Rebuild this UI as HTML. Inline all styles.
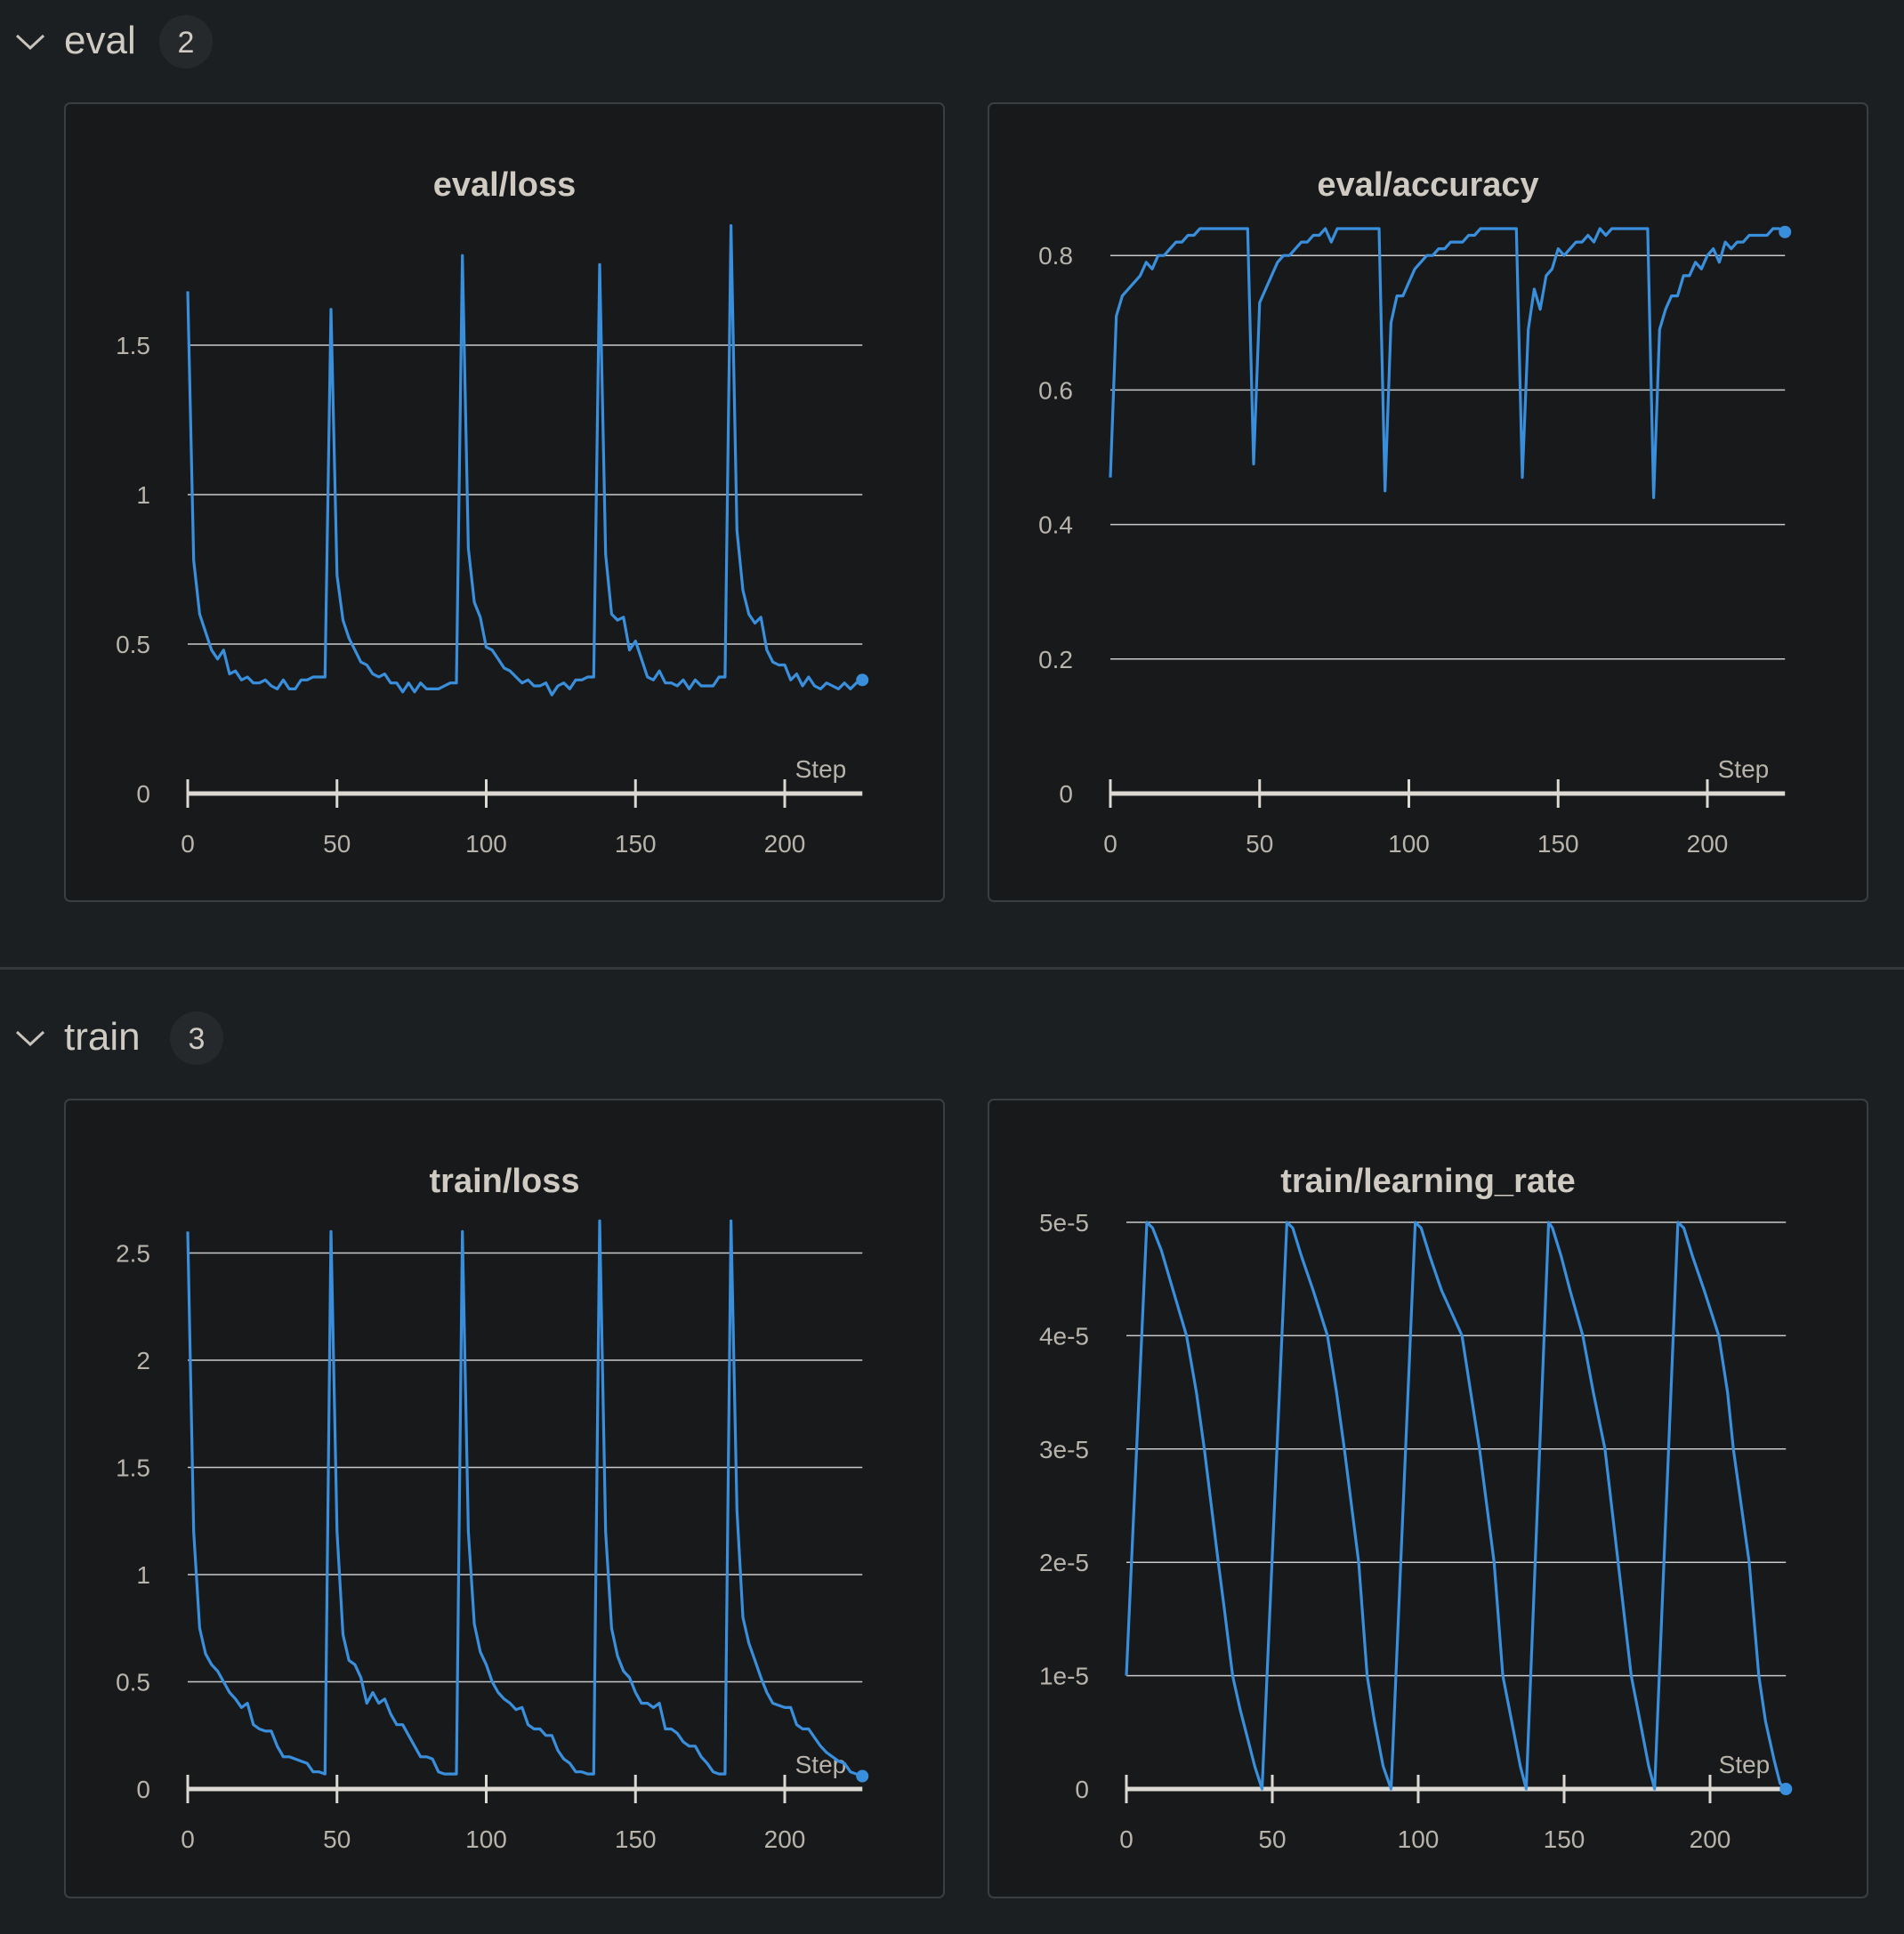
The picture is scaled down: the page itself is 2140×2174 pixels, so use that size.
<!DOCTYPE html>
<html><head><meta charset="utf-8"><style>
html,body{margin:0;padding:0;background:#1c1f22;}
body{width:2140px;height:2174px;overflow:hidden;font-family:"Liberation Sans",sans-serif;}
svg{display:block}
</style></head><body>
<svg id="root" width="2140" height="2174" viewBox="0 0 2140 2174" xmlns="http://www.w3.org/2000/svg">
<rect x="0" y="0" width="2140" height="2174" fill="#1c1f22"/>
<g>
<polyline points="19,40 34,54 49,40" fill="none" stroke="#c8c4bd" stroke-width="3"/>
<text x="72" y="60" font-size="44" fill="#cfcac2">eval</text>
<circle cx="209" cy="47" r="30" fill="#25292c"/>
<text x="209" y="59" font-size="34" fill="#cfcac2" text-anchor="middle">2</text>
</g>
<rect x="0" y="1087" width="2140" height="3" fill="#34383b"/>
<g>
<polyline points="19,1160 34,1174 49,1160" fill="none" stroke="#c8c4bd" stroke-width="3"/>
<text x="72" y="1180" font-size="44" fill="#cfcac2">train</text>
<circle cx="221" cy="1167" r="30" fill="#25292c"/>
<text x="221" y="1179" font-size="34" fill="#cfcac2" text-anchor="middle">3</text>
</g>
</svg>
<script>
// eval/loss (evaluated every 2 steps)
const evalLossSteps = [0,2,4,6,8,10,12,14,16,18,20,22,24,26,28,30,32,34,36,38,40,42,44,46,
48,50,52,54,56,58,60,62,64,66,68,70,72,74,76,78,80,82,84,86,88,90,
92,94,96,98,100,102,104,106,108,110,112,114,116,118,120,122,124,126,128,130,132,134,136,
138,140,142,144,146,148,150,152,154,156,158,160,162,164,166,168,170,172,174,176,178,180,
182,184,186,188,190,192,194,196,198,200,202,204,206,208,210,212,214,216,218,220,222,224,226];
const evalLossValues = [1.68,0.78,0.6,0.54,0.48,0.45,0.48,0.40,0.41,0.38,0.39,0.37,0.37,0.38,0.36,0.35,0.38,0.35,0.35,0.38,0.38,0.39,0.39,0.39,
1.62,0.73,0.58,0.52,0.48,0.44,0.43,0.40,0.39,0.40,0.37,0.37,0.34,0.37,0.34,0.37,0.35,0.35,0.35,0.36,0.37,0.37,
1.8,0.82,0.64,0.59,0.49,0.48,0.45,0.42,0.41,0.39,0.37,0.38,0.36,0.36,0.37,0.33,0.36,0.37,0.35,0.38,0.38,0.39,0.39,
1.77,0.8,0.6,0.58,0.59,0.48,0.51,0.45,0.39,0.38,0.41,0.37,0.37,0.36,0.38,0.35,0.38,0.36,0.36,0.36,0.39,0.39,
1.9,0.88,0.68,0.6,0.57,0.59,0.48,0.44,0.43,0.43,0.38,0.40,0.36,0.39,0.36,0.35,0.37,0.36,0.35,0.37,0.35,0.37,0.38];
const evalAccValues = [0.47,0.71,0.74,0.75,0.76,0.77,0.79,0.78,0.80,0.80,0.81,0.82,0.82,0.83,0.83,0.84,0.84,0.84,0.84,0.84,0.84,0.84,0.84,0.84,
0.49,0.73,0.75,0.77,0.79,0.80,0.80,0.81,0.82,0.82,0.83,0.83,0.84,0.82,0.84,0.84,0.84,0.84,0.84,0.84,0.84,0.84,
0.45,0.70,0.74,0.74,0.76,0.78,0.79,0.80,0.80,0.81,0.81,0.82,0.82,0.82,0.83,0.83,0.84,0.84,0.84,0.84,0.84,0.84,0.84,
0.47,0.69,0.75,0.72,0.77,0.78,0.81,0.80,0.81,0.82,0.82,0.83,0.82,0.84,0.83,0.84,0.84,0.84,0.84,0.84,0.84,0.84,
0.44,0.69,0.72,0.74,0.74,0.77,0.77,0.79,0.78,0.80,0.81,0.79,0.82,0.81,0.82,0.82,0.83,0.83,0.83,0.83,0.84,0.84,0.835];
const trainLossValues = [2.6,1.2,0.75,0.63,0.58,0.55,0.5,0.45,0.42,0.38,0.4,0.3,0.28,0.27,0.27,0.2,0.15,0.15,0.14,0.13,0.12,0.08,0.08,0.07,
2.6,1.2,0.72,0.6,0.58,0.52,0.4,0.45,0.4,0.42,0.35,0.3,0.3,0.25,0.2,0.15,0.15,0.14,0.08,0.07,0.07,0.07,
2.6,1.2,0.77,0.64,0.58,0.5,0.45,0.42,0.4,0.37,0.38,0.3,0.28,0.28,0.25,0.25,0.18,0.14,0.12,0.08,0.08,0.07,0.07,
2.65,1.2,0.75,0.62,0.55,0.52,0.45,0.4,0.4,0.38,0.4,0.28,0.28,0.26,0.22,0.2,0.2,0.15,0.12,0.08,0.07,0.07,
2.65,1.3,0.8,0.68,0.6,0.52,0.45,0.4,0.39,0.38,0.38,0.3,0.28,0.28,0.24,0.2,0.17,0.15,0.13,0.12,0.08,0.07,0.06];
const lrSteps = [0,7,9,12,16,20.6,24,26.7,31.5,33.5,36.4,39,41,44,46.5,
55,57,60,64,68.9,72,74.7,79.6,82.5,85,88,90.7,
99,101,104,108,115,118,121,126,129,132,135,137,
144.7,146,149,152,156.4,160,164,168.5,173,176,179,181,
189,191,194,198,203,206,208,213.4,216.7,219,222,224,226];
const lrValues = [1e-5,5e-5,4.95e-5,4.75e-5,4.4e-5,4e-5,3.5e-5,3e-5,2e-5,1.6e-5,1e-5,0.7e-5,0.5e-5,0.2e-5,0,
5e-5,4.95e-5,4.7e-5,4.4e-5,4e-5,3.5e-5,3e-5,2e-5,1e-5,0.6e-5,0.2e-5,0,
5e-5,4.95e-5,4.7e-5,4.4e-5,4e-5,3.5e-5,3e-5,2e-5,1e-5,0.6e-5,0.2e-5,0,
5e-5,4.95e-5,4.7e-5,4.4e-5,4e-5,3.5e-5,3e-5,2e-5,1e-5,0.6e-5,0.2e-5,0,
5e-5,4.95e-5,4.7e-5,4.4e-5,4e-5,3.5e-5,3e-5,2e-5,1e-5,0.6e-5,0.25e-5,0.05e-5,0];
const xTickValues = [0,50,100,150,200];
const evalLossTicks = [0,0.5,1,1.5];
const evalLossTickLabels = ["0","0.5","1","1.5"];
const accTicks = [0,0.2,0.4,0.6,0.8];
const accTickLabels = ["0","0.2","0.4","0.6","0.8"];
const trainLossTicks = [0,0.5,1,1.5,2,2.5];
const trainLossTickLabels = ["0","0.5","1","1.5","2","2.5"];
const lrTicks = [0,1e-5,2e-5,3e-5,4e-5,5e-5];
const lrTickLabels = ["0","1e-5","2e-5","3e-5","4e-5","5e-5"];

const NS="http://www.w3.org/2000/svg";
const root=document.getElementById('root');
function mk(tag,attrs,parent){const e=document.createElementNS(NS,tag);for(const k in attrs)e.setAttribute(k,attrs[k]);parent.appendChild(e);return e;}

function chart(o){
  const g=mk('g',{},root);
  
  
  const bg=mk('rect',{x:o.px,y:o.py,width:988,height:897,rx:6,fill:'#18191b',stroke:'#3b3e41','stroke-width':2},g);
  
  
  const t=mk('text',{x:o.px+494,y:o.py+104,'font-size':38,'font-weight':'bold',fill:'#cfcac2','text-anchor':'middle'},g);
  t.textContent=o.title;
  
  
  const xs=s=>o.x0+s*(o.x200-o.x0)/200;
  const xEnd=xs(226);
  const ys=v=>o.y0-(v-o.ymin)*o.yunit;
  o.ticks.forEach((v,i)=>{
    const y=ys(v);
    if(v!==0){
      const l=mk('line',{x1:o.x0,x2:xEnd,y1:y,y2:y,stroke:'#c9c9c9','stroke-width':1.5},g);
      
      
    }
    const tl=mk('text',{x:o.x0-42,y:y+10,'font-size':28,fill:'#b8b3ab','text-anchor':'end'},g);
    tl.textContent=o.labels[i];
    
    
  });
  const ax=mk('line',{x1:o.x0,x2:xEnd,y1:o.y0,y2:o.y0,stroke:'#dcd8d2','stroke-width':5},g);
  
  
  xTickValues.forEach(s=>{
    const x=xs(s);
    const tk=mk('line',{x1:x,x2:x,y1:o.y0-16,y2:o.y0+16,stroke:'#dcd8d2','stroke-width':3},g);
    
    
    const tl=mk('text',{x:x,y:o.y0+66,'font-size':28,fill:'#b8b3ab','text-anchor':'middle'},g);
    tl.textContent=String(s);
    
    
  });
  const st=mk('text',{x:xEnd-18,y:o.y0-18,'font-size':28,fill:'#b8b3ab','text-anchor':'end'},g);
  st.textContent='Step';
  
  
  const pts=o.steps.map((s,i)=>xs(s).toFixed(1)+','+ys(o.values[i]).toFixed(1)).join(' ');
  const pl=mk('polyline',{points:pts,fill:'none',stroke:'#3a8fdc','stroke-width':3.2,'stroke-linejoin':'round'},g);
  
  
  const n=o.steps.length-1;
  const d=mk('circle',{cx:xs(o.steps[n]),cy:ys(o.values[n]),r:7,fill:'#3a8fdc'},g);
  
  
}
chart({name:'eval-loss',title:'eval/loss',px:73,py:116,x0:211,x200:882,y0:892,ymin:0,yunit:336,ticks:evalLossTicks,labels:evalLossTickLabels,steps:evalLossSteps,values:evalLossValues});
chart({name:'eval-accuracy',title:'eval/accuracy',px:1111,py:116,x0:1248,x200:1919,y0:892,ymin:0,yunit:756,ticks:accTicks,labels:accTickLabels,steps:evalLossSteps,values:evalAccValues});
chart({name:'train-loss',title:'train/loss',px:73,py:1236,x0:211,x200:882,y0:2011,ymin:0,yunit:241,ticks:trainLossTicks,labels:trainLossTickLabels,steps:evalLossSteps,values:trainLossValues});
chart({name:'train-learning-rate',title:'train/learning_rate',px:1111,py:1236,x0:1266,x200:1922,y0:2011,ymin:0,yunit:637/5e-5,ticks:lrTicks,labels:lrTickLabels,steps:lrSteps,values:lrValues});
</script>
</body></html>
